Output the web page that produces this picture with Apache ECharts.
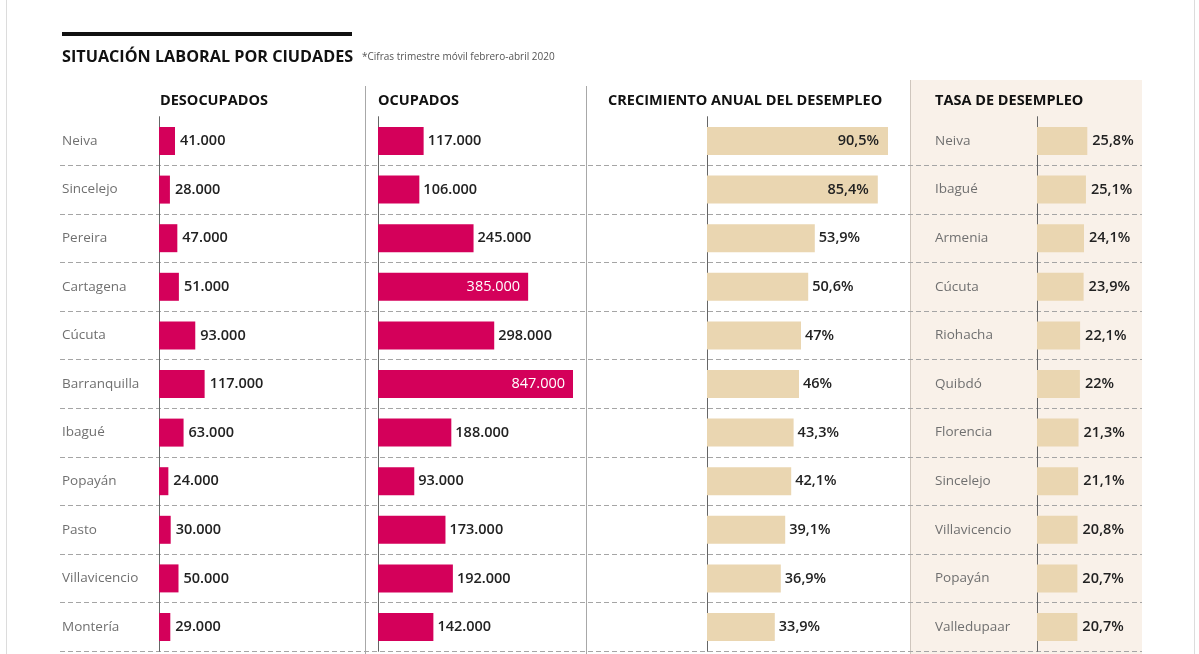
<!DOCTYPE html>
<html><head><meta charset="utf-8">
<script src="https://cdn.jsdelivr.net/npm/echarts@6/dist/echarts.min.js"></script>
<style>html,body{margin:0;padding:0;background:#fff}#c{width:1199px;height:654px}</style>
</head><body><div id="c"></div>
<script>
// ---- data ----
const cities = ['Neiva','Sincelejo','Pereira','Cartagena','Cúcuta','Barranquilla','Ibagué','Popayán','Pasto','Villavicencio','Montería'];
const desocupados = [41000,28000,47000,51000,93000,117000,63000,24000,30000,50000,29000];
const ocupados = [117000,106000,245000,385000,298000,847000,188000,93000,173000,192000,142000];
const crecimiento = [90.5,85.4,53.9,50.6,47,46,43.3,42.1,39.1,36.9,33.9];
const tasaCities = ['Neiva','Ibagué','Armenia','Cúcuta','Riohacha','Quibdó','Florencia','Sincelejo','Villavicencio','Popayán','Valledupaar'];
const tasa = [25.8,25.1,24.1,23.9,22.1,22,21.3,21.1,20.8,20.7,20.7];
const headers = ['DESOCUPADOS','OCUPADOS','CRECIMIENTO ANUAL DEL DESEMPLEO','TASA DE DESEMPLEO'];
const title = 'SITUACIÓN LABORAL POR CIUDADES';
const subtitle = '*Cifras trimestre móvil febrero-abril 2020';

// ---- helpers ----
const fmtN = v => String(v).replace(/\B(?=(\d{3})+(?!\d))/g, '.');
const fmtP = v => String(v).replace('.', ',') + '%';
const FONT = 'Open Sans';
const PINK = '#d4005a';
const BEIGE = '#ead6b1';
const TOP = 116.7, H = 534.6;
const ABS_MAX = 500000;   // shared scale of the two count columns
const CREC_MAX = 100, TASA_MAX = 50;

const valLabel = {show: true, position: 'right', distance: 5, fontFamily: FONT, fontWeight: 600, fontSize: 14.5, color: '#222'};

const chart = echarts.init(document.getElementById('c'), null, {renderer: 'canvas'});
const grids = [
  {left: 60, width: 1082, top: TOP, height: H},
  {left: 159, width: 195, top: TOP, height: H},
  {left: 378, width: 195, top: TOP, height: H},
  {left: 707, width: 200, top: TOP, height: H},
  {left: 1037, width: 97.5, top: TOP, height: H}
];
const maxes = [1, ABS_MAX, ABS_MAX, CREC_MAX, TASA_MAX];
const xAxis = grids.map((g, i) => ({gridIndex: i, type: 'value', min: 0, max: maxes[i], show: false}));
const axLine = {show: true, lineStyle: {color: '#666', width: 1}};
const cityLabel = {align: 'left', fontFamily: FONT, fontSize: 13.5, color: '#707070'};
const yAxis = [
  {gridIndex: 0, type: 'category', inverse: true, data: cities, axisLine: {show: false}, axisTick: {show: false}, axisLabel: {show: false},
   splitLine: {show: true, interval: i => i > 0, lineStyle: {color: '#a5a5a5', type: [5, 3], width: 1}}},
  {gridIndex: 1, type: 'category', inverse: true, data: cities, axisLine: axLine, axisTick: {show: false},
   axisLabel: Object.assign({margin: 97}, cityLabel), splitLine: {show: false}},
  {gridIndex: 2, type: 'category', inverse: true, data: cities, axisLine: axLine, axisTick: {show: false}, axisLabel: {show: false}},
  {gridIndex: 3, type: 'category', inverse: true, data: cities, axisLine: axLine, axisTick: {show: false}, axisLabel: {show: false}},
  {gridIndex: 4, type: 'category', inverse: true, data: tasaCities, axisLine: axLine, axisTick: {show: false},
   axisLabel: Object.assign({margin: 102}, cityLabel)}
];

const series = [
  {type: 'bar', xAxisIndex: 1, yAxisIndex: 1, barWidth: 28, itemStyle: {color: PINK}, data: desocupados,
   label: Object.assign({}, valLabel, {formatter: p => fmtN(p.value)})},
  {type: 'bar', xAxisIndex: 2, yAxisIndex: 2, barWidth: 28, itemStyle: {color: PINK},
   data: ocupados.map(v => v > 300000 ? {value: Math.min(v, ABS_MAX), label: {position: 'insideRight', distance: 8, color: '#fff', fontWeight: 400}} : v),
   label: Object.assign({}, valLabel, {distance: 4, formatter: p => fmtN(ocupados[p.dataIndex])})},
  {type: 'bar', xAxisIndex: 3, yAxisIndex: 3, barWidth: 28, itemStyle: {color: BEIGE},
   data: crecimiento.map(v => v > 80 ? {value: v, label: {position: 'insideRight', distance: 9}} : v),
   label: Object.assign({}, valLabel, {distance: 4, formatter: p => fmtP(p.value)})},
  {type: 'bar', xAxisIndex: 4, yAxisIndex: 4, barWidth: 28, itemStyle: {color: BEIGE}, data: tasa,
   label: Object.assign({}, valLabel, {formatter: p => fmtP(p.value)})}
];

const hx = [160, 378, 608, 935];
const hdrFont = 'bold 14.5px "Open Sans"';
const graphic = [
  {type: 'rect', z: -10, shape: {x: 910, y: 80, width: 232, height: 580}, style: {fill: '#f9f1e9'}},
  {type: 'line', shape: {x1: 6.5, y1: 0, x2: 6.5, y2: 654}, style: {stroke: '#dcdcdc', lineWidth: 1}},
  {type: 'line', shape: {x1: 1194.5, y1: 0, x2: 1194.5, y2: 654}, style: {stroke: '#dcdcdc', lineWidth: 1}},
  {type: 'line', shape: {x1: 365.5, y1: 86, x2: 365.5, y2: 654}, style: {stroke: '#a8a8a8', lineWidth: 1}},
  {type: 'line', shape: {x1: 586.5, y1: 86, x2: 586.5, y2: 654}, style: {stroke: '#a8a8a8', lineWidth: 1}},
  {type: 'line', shape: {x1: 910.5, y1: 80, x2: 910.5, y2: 654}, style: {stroke: '#cfc6bd', lineWidth: 1}},
  {type: 'rect', shape: {x: 62, y: 32, width: 290, height: 4}, style: {fill: '#111'}},
  {type: 'text', x: 62, y: 57, style: {text: title, font: 'bold 16.2px "Open Sans"', fill: '#111', verticalAlign: 'middle'}},
  {type: 'text', x: 362, y: 57, style: {text: subtitle, font: '10px "Open Sans"', fill: '#555', verticalAlign: 'middle'}}
].concat(headers.map((h, i) => ({type: 'text', x: hx[i], y: 101, style: {text: h, font: hdrFont, fill: '#111', verticalAlign: 'middle'}})));

chart.setOption({animation: false, backgroundColor: '#fff', grid: grids, xAxis, yAxis, series, graphic});
</script></body></html>
